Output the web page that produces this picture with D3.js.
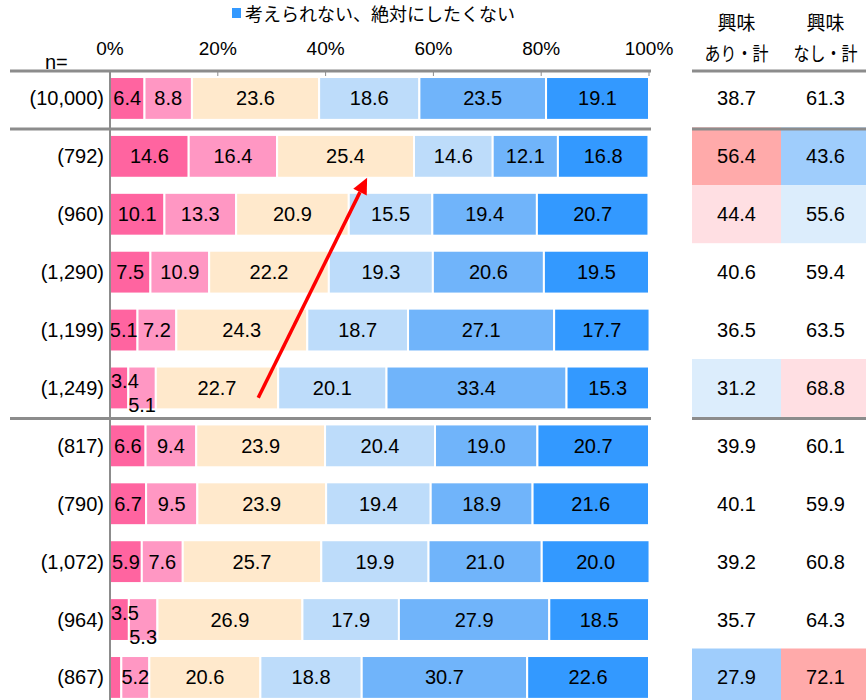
<!DOCTYPE html>
<html>
<head>
<meta charset="utf-8">
<script src="https://d3js.org/d3.v7.min.js"></script>
<style>
  body { margin: 0; background: #fff; }
  text { font-family: 'Liberation Sans', Arial, sans-serif; fill: #000; }
  .jp { font-family: 'Noto Sans CJK JP', sans-serif; }
</style>
</head>
<body>
<script>
// rows (sample size labels)
var rows = ['(10,000)', '(792)', '(960)', '(1,290)', '(1,199)', '(1,249)',
            '(817)', '(790)', '(1,072)', '(964)', '(867)']

// six answer segments, left to right
var s1 = [6.4, 14.6, 10.1, 7.5, 5.1, 3.4, 6.6, 6.7, 5.9, 3.5, 2.1]
var s2 = [8.8, 16.4, 13.3, 10.9, 7.2, 5.1, 9.4, 9.5, 7.6, 5.3, 5.2]
var s3 = [23.6, 25.4, 20.9, 22.2, 24.3, 22.7, 23.9, 23.9, 25.7, 26.9, 20.6]
var s4 = [18.6, 14.6, 15.5, 19.3, 18.7, 20.1, 20.4, 19.4, 19.9, 17.9, 18.8]
var s5 = [23.5, 12.1, 19.4, 20.6, 27.1, 33.4, 19.0, 18.9, 21.0, 27.9, 30.7]
var s6 = [19.1, 16.8, 20.7, 19.5, 17.7, 15.3, 20.7, 21.6, 20.0, 18.5, 22.6]

// summary columns
var interestYes = [38.7, 56.4, 44.4, 40.6, 36.5, 31.2, 39.9, 40.1, 39.2, 35.7, 27.9]
var interestNo  = [61.3, 43.6, 55.6, 59.4, 63.5, 68.8, 60.1, 59.9, 60.8, 64.3, 72.1]

var ticks = [0, 20, 40, 60, 80, 100]
var legendLabel = '考えられない、絶対にしたくない'
var groupBreaks = [1, 6]   // a line is drawn above these rows

var keys = ['s1', 's2', 's3', 's4', 's5', 's6']
var colors = ['#ff64a0', '#ff97c3', '#ffe9cc', '#bddcfa', '#70b4fa', '#3399ff']

var table = rows.map(function(r, i) {
    return { n: r, s1: s1[i], s2: s2[i], s3: s3[i], s4: s4[i], s5: s5[i], s6: s6[i] }
})

var w = 866
var h = 700
var svg = d3.select('body').append('svg').attr('width', w).attr('height', h)

var x = d3.scaleLinear().domain([0, 100]).range([110, 649])
var y = d3.scaleBand().domain(rows).range([69.5, 706.4]).paddingInner(0.26).paddingOuter(0.13)
var col = d3.scaleBand().domain(['yes', 'no']).range([692, 870])

var gray = '#8c8c8c'

// legend
svg.append('rect').attr('x', 232).attr('y', 8).attr('width', 9).attr('height', 10).attr('fill', colors[5])
svg.append('text').attr('class', 'jp').attr('x', 245).attr('y', 21)
    .attr('font-size', '18px').text(legendLabel)

// tick labels
svg.selectAll('text.tick')
    .data(ticks)
    .enter()
    .append('text')
    .attr('class', 'tick')
    .attr('x', function(d) { return x(d) })
    .attr('y', 55)
    .attr('text-anchor', 'middle')
    .attr('font-size', '19px')
    .text(function(d) { return d + '%' })

svg.append('text').attr('x', 45).attr('y', 69).attr('font-size', '20px').text('n=')

// header of summary table
var heads = { yes: 'あり・計', no: 'なし・計' }
Object.keys(heads).forEach(function(k) {
    var cx = col(k) + col.bandwidth() / 2
    svg.append('text').attr('class', 'jp').attr('x', cx).attr('y', 30)
        .attr('text-anchor', 'middle').attr('font-size', '19px').text('興味')
    svg.append('text').attr('class', 'jp').attr('x', cx).attr('y', 61)
        .attr('text-anchor', 'middle').attr('font-size', '19px')
        .attr('textLength', 64).attr('lengthAdjust', 'spacingAndGlyphs').text(heads[k])
})

// stacked bars
var stacked = d3.stack().keys(keys)(table)

var layers = svg.selectAll('g.layer')
    .data(stacked)
    .enter()
    .append('g')
    .attr('class', 'layer')
    .attr('fill', function(d, i) { return colors[i] })

layers.selectAll('rect')
    .data(function(d) { return d })
    .enter()
    .append('rect')
    .attr('x', function(d) { return x(d[0]) })
    .attr('y', function(d) { return y(d.data.n) })
    .attr('width', function(d) { return x(d[1]) - x(d[0]) })
    .attr('height', y.bandwidth())
    .attr('stroke', '#fff')
    .attr('stroke-width', 2)

// value labels (drawn above all bars)
var labelG = svg.append('g')
stacked.forEach(function(layer, li) {
    labelG.append('g').selectAll('text')
        .data(layer.filter(function(d) { return d[1] - d[0] >= 3 }))
        .enter()
        .append('text')
        .attr('font-size', '20px')
        .attr('text-anchor', function(d) {
            return (li === 0 && d[1] - d[0] < 4) ? 'start' : 'middle'
        })
        .attr('x', function(d) {
            if (li === 0 && d[1] - d[0] < 4) return x(d[0]) + 1
            return x((d[0] + d[1]) / 2)
        })
        .attr('y', function(d) {
            var cy = y(d.data.n) + y.bandwidth() / 2
            var crowded = d.data.s1 >= 3 && d.data.s1 < 4
            if (crowded && li === 0) return cy
            if (crowded && li === 1) return cy + 24
            return cy + 7
        })
        .text(function(d) { return (d[1] - d[0]).toFixed(1) })
})

// summary table cells, shaded by difference from the total row
function shade(v, base, upStrong, upLight, downStrong, downLight) {
    var diff = v - base
    if (diff >= 10) return upStrong
    if (diff >= 5) return upLight
    if (diff <= -10) return downStrong
    if (diff <= -5) return downLight
    return 'none'
}
var summary = [
    { key: 'yes', vals: interestYes },
    { key: 'no', vals: interestNo }
]
summary.forEach(function(s) {
    var g = svg.append('g')
    g.selectAll('rect')
        .data(s.vals)
        .enter()
        .append('rect')
        .attr('x', col(s.key))
        .attr('y', function(d, i) { return y(rows[i]) - y.step() * 0.13 })
        .attr('width', col.bandwidth())
        .attr('height', y.step())
        .attr('fill', function(d) {
            return shade(d, s.vals[0], '#ffaaaa', '#ffdfe3', '#9fcdfc', '#dcedfc')
        })
    g.selectAll('text')
        .data(s.vals)
        .enter()
        .append('text')
        .attr('x', col(s.key) + col.bandwidth() / 2)
        .attr('y', function(d, i) { return y(rows[i]) + y.bandwidth() / 2 + 7 })
        .attr('text-anchor', 'middle')
        .attr('font-size', '20px')
        .text(function(d) { return d.toFixed(1) })
})

// row labels
svg.selectAll('text.rowlab')
    .data(rows)
    .enter()
    .append('text')
    .attr('class', 'rowlab')
    .attr('x', 104)
    .attr('y', function(d) { return y(d) + y.bandwidth() / 2 + 7 })
    .attr('text-anchor', 'end')
    .attr('font-size', '20px')
    .text(function(d) { return d })

// axis and separators
var top0 = y.range()[0] + 1.5
svg.append('line').attr('x1', 110).attr('x2', 110).attr('y1', top0).attr('y2', h)
    .attr('stroke', gray).attr('stroke-width', 2)
svg.selectAll('line.tk')
    .data(ticks)
    .enter()
    .append('line')
    .attr('class', 'tk')
    .attr('x1', function(d) { return x(d) }).attr('x2', function(d) { return x(d) })
    .attr('y1', top0).attr('y2', top0 + 5)
    .attr('stroke', gray).attr('stroke-width', 1)

var lineYs = [top0].concat(groupBreaks.map(function(i) { return y.range()[0] + i * y.step() + 1.5 }))
lineYs.forEach(function(ly) {
    svg.append('line').attr('x1', 10).attr('x2', 651).attr('y1', ly).attr('y2', ly)
        .attr('stroke', gray).attr('stroke-width', 3)
    svg.append('line').attr('x1', 692).attr('x2', 866).attr('y1', ly).attr('y2', ly)
        .attr('stroke', gray).attr('stroke-width', 3)
})

// red arrow annotation
var arrowFrom = { row: 5, pct: 27.5 }
var arrowTo = { row: 1, pct: 47.7 }
var ax1 = x(arrowFrom.pct)
var ay1 = y(rows[arrowFrom.row]) + y.bandwidth() * 0.73
var ax2 = x(arrowTo.pct)
var ay2 = y(rows[arrowTo.row]) + y.bandwidth()
var ang = Math.atan2(ay2 - ay1, ax2 - ax1)
var headLen = 16
var bx = ax2 - headLen * Math.cos(ang)
var by = ay2 - headLen * Math.sin(ang)
svg.append('line').attr('x1', ax1).attr('y1', ay1).attr('x2', bx).attr('y2', by)
    .attr('stroke', '#ff0000').attr('stroke-width', 3.5)
var px = -Math.sin(ang) * 7.5
var py = Math.cos(ang) * 7.5
svg.append('path')
    .attr('d', 'M' + ax2 + ',' + ay2 + 'L' + (bx + px) + ',' + (by + py) + 'L' + (bx - px) + ',' + (by - py) + 'Z')
    .attr('fill', '#ff0000')
</script>
</body>
</html>
